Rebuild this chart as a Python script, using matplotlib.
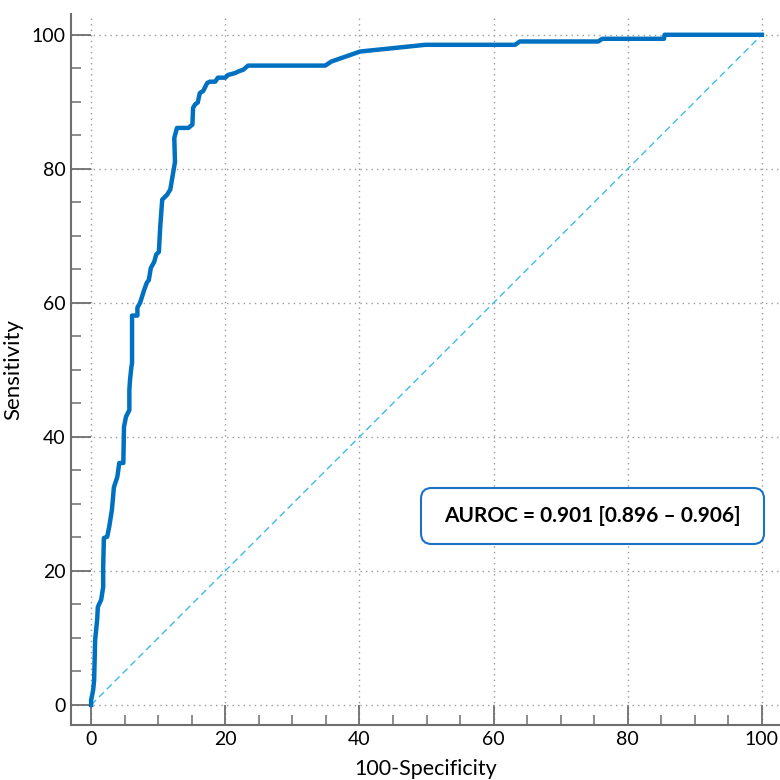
import matplotlib
matplotlib.use('Agg')
import matplotlib.pyplot as plt
from matplotlib.patches import FancyBboxPatch
from matplotlib.ticker import MultipleLocator

plt.rcParams['font.family'] = ['Lato', 'DejaVu Sans']

# ROC curve points (100-Specificity, Sensitivity)
fpr = [0, 0, 0.3, 0.45, 0.6, 0.9, 1.0, 1.5, 1.8, 1.8, 1.9, 2.4, 2.7, 3.1, 3.4, 3.9,
       4.2, 4.8, 4.9, 5.2, 5.7, 5.7, 5.8, 6.0, 6.1, 6.1, 6.9, 6.9, 7.3, 7.9, 8.3,
       8.6, 8.9, 9.4, 9.7, 10.1, 10.3, 10.6, 11.3, 11.8, 12.5, 12.4, 12.8, 14.5,
       15.1, 15.2, 15.5, 15.9, 16.2, 16.7, 17.3, 17.7, 18.5, 18.9, 20.0, 20.4,
       21.5, 21.9, 22.7, 23.4, 34.9, 35.8, 40.1, 49.8, 63.2, 63.9, 75.6, 76.2,
       85.4, 85.5, 100]
tpr = [0, 0.7, 2.2, 3.7, 9.7, 12.7, 14.6, 15.7, 17.6, 20.6, 24.9, 25.1, 26.6, 29.1,
       32.5, 34.0, 36.1, 36.1, 41.5, 43.0, 44.0, 47.0, 48.5, 50.4, 51.0, 58.1,
       58.1, 59.3, 60.0, 61.9, 63.0, 63.4, 65.2, 66.1, 67.2, 67.6, 71.3, 75.4,
       76.1, 76.9, 81.0, 84.6, 86.1, 86.1, 86.6, 89.1, 89.6, 89.9, 91.3, 91.6,
       92.8, 93.0, 93.0, 93.6, 93.6, 94.0, 94.3, 94.5, 94.8, 95.4, 95.4, 96.0,
       97.5, 98.5, 98.5, 99.0, 99.0, 99.4, 99.4, 100, 100]
chance = [0, 100]
auroc_text = 'AUROC = 0.901 [0.896 \u2013 0.906]'

fig = plt.figure(figsize=(7.8, 7.8), dpi=100)
ax = fig.add_axes([71 / 780, 55 / 780, 709 / 780, 711 / 780])

ax.plot(chance, chance, color='#3bbcec', lw=1.0, ls=(0, (5, 3)), zorder=2)
ax.plot(fpr, tpr, color='#0070c0', lw=3.2, solid_joinstyle='round', zorder=3)

ax.set_xlim(-3, 102.7)
ax.set_ylim(-3, 103.1)

for s in ['top', 'right']:
    ax.spines[s].set_visible(False)
for s in ['left', 'bottom']:
    ax.spines[s].set_color('#6e6e6e')
    ax.spines[s].set_linewidth(1.5)

ax.xaxis.set_major_locator(MultipleLocator(20))
ax.xaxis.set_minor_locator(MultipleLocator(5))
ax.yaxis.set_major_locator(MultipleLocator(20))
ax.yaxis.set_minor_locator(MultipleLocator(5))
ax.tick_params(which='major', direction='in', length=14.5, width=1.3, color='#6e6e6e',
               labelsize=14, pad=4)
ax.tick_params(which='minor', direction='in', length=7.5, width=1.1, color='#6e6e6e')
ax.set_xticks([0, 20, 40, 60, 80, 100])
ax.set_yticks([0, 20, 40, 60, 80, 100])

ax.grid(True, which='major', color='#9a9a9a', ls=(0, (1, 3)), lw=1.0, zorder=1)

ax.set_xlabel('100-Specificity', fontsize=15.5, labelpad=8)
ax.set_ylabel('Sensitivity', fontsize=16, labelpad=6)

box = FancyBboxPatch(((421 - 71) / 709, (780 - 544 - 55) / 711),
                     343 / 709, 56 / 711, boxstyle='round,pad=0,rounding_size=0.015',
                     transform=ax.transAxes, facecolor='white', edgecolor='#1a73c4',
                     lw=1.5, zorder=5)
ax.add_patch(box)
ax.text((592 - 71) / 709, (780 - 516 - 55) / 711, auroc_text, transform=ax.transAxes,
        ha='center', va='center', fontsize=15, fontweight='bold', zorder=6)

fig.savefig('out.png', dpi=100)
